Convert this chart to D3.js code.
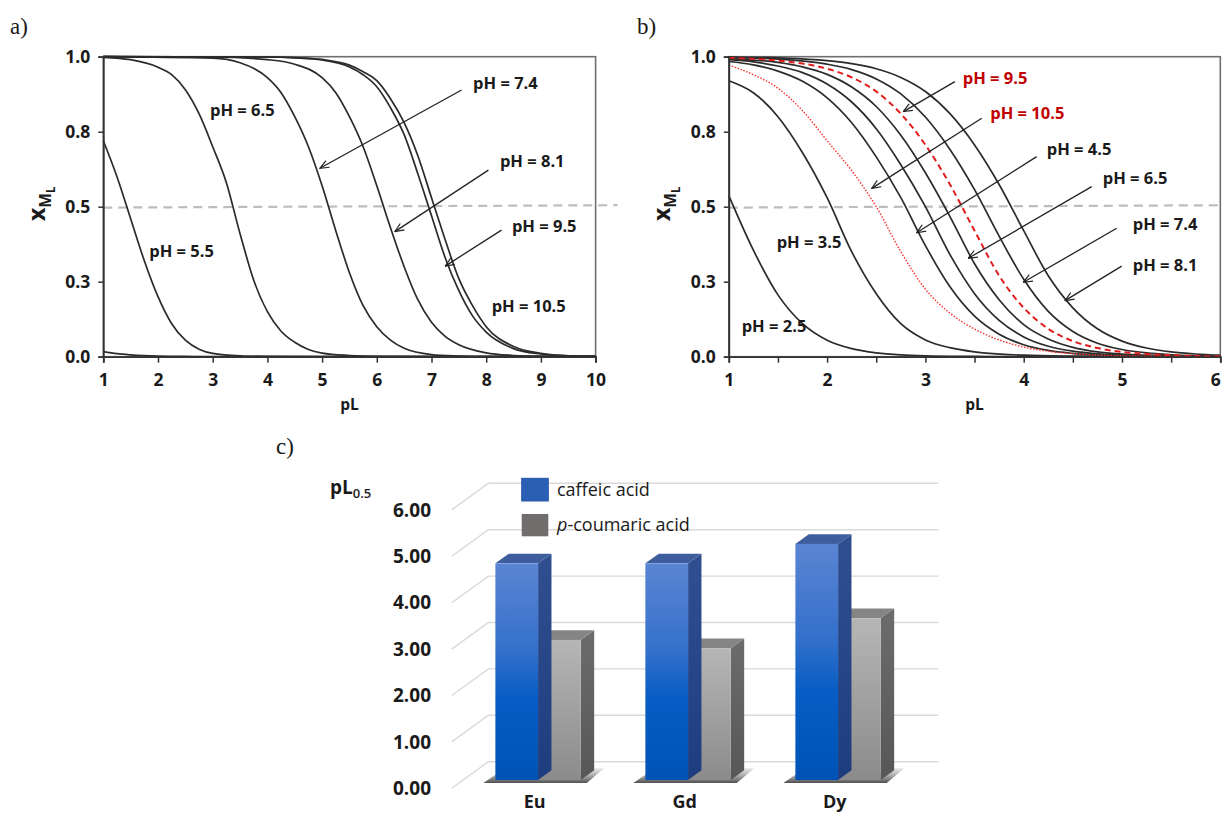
<!DOCTYPE html>
<html><head><meta charset="utf-8">
<script src="https://cdn.jsdelivr.net/npm/d3@7"></script>
<style>
body{margin:0;background:#fff}
svg{display:block}
text{font-family:"Open Sans",sans-serif;fill:#1a1a1a}
</style>
</head><body>
<svg id="c" width="1223" height="816"></svg>
<script>
// ---------------- DATA ----------------
const yTickVals = [0, 0.25, 0.5, 0.75, 1];
const yTickLabels = ["0.0", "0.3", "0.5", "0.8", "1.0"];
const aXTicks = [1,2,3,4,5,6,7,8,9,10];
const bXTicks = [1,2,3,4,5,6];
const bXMinorTicks = [1.5,2.5,3.5,4.5,5.5];
const refLineA = [[1,0.497],[10.4,0.505]];
const refLineB = [[1,0.497],[6.05,0.505]];

// panel a: x_ML vs pL
const a_pH45 = [[1,0.017],[1.25,0.01],[1.5,0.006],[2,0.002],[2.5,0.001],[3,0],[10,0]];
const a_pH55 = [[1,0.72],[1.25,0.60],[1.5,0.46],[1.75,0.32],[2,0.20],[2.25,0.11],[2.5,0.055],[2.75,0.025],[3,0.011],[3.5,0.003],[4,0.001],[5,0],[10,0]];
const a_pH65 = [[1,0.998],[1.5,0.99],[2,0.965],[2.25,0.94],[2.5,0.89],[2.75,0.81],[3,0.70],[3.25,0.58],[3.5,0.41],[3.75,0.255],[4,0.15],[4.25,0.085],[4.5,0.048],[4.75,0.024],[5,0.012],[5.5,0.004],[6,0.001],[7,0],[10,0]];
const a_pH74 = [[1,1],[3,0.995],[3.5,0.98],[4,0.93],[4.25,0.88],[4.5,0.80],[4.75,0.70],[5,0.57],[5.25,0.42],[5.5,0.28],[5.75,0.17],[6,0.10],[6.25,0.055],[6.5,0.028],[7,0.007],[7.5,0.002],[8,0],[10,0]];
const a_pH81 = [[1,1],[3,0.999],[4,0.99],[4.5,0.975],[5,0.93],[5.25,0.88],[5.5,0.80],[5.75,0.70],[6,0.57],[6.25,0.43],[6.5,0.30],[6.75,0.19],[7,0.115],[7.25,0.068],[7.5,0.04],[8,0.013],[8.5,0.004],[9,0.001],[10,0]];
const a_pH95 = [[1,1],[4,0.999],[4.5,0.996],[5,0.989],[5.5,0.966],[5.75,0.94],[6,0.90],[6.25,0.83],[6.5,0.74],[6.75,0.61],[7,0.47],[7.25,0.33],[7.5,0.22],[7.75,0.136],[8,0.082],[8.5,0.027],[9,0.009],[9.5,0.003],[10,0.001]];
const a_pH105 = [[1,1],[4,0.999],[4.5,0.997],[5,0.991],[5.5,0.972],[5.75,0.95],[6,0.92],[6.25,0.86],[6.5,0.78],[6.75,0.67],[7,0.53],[7.25,0.39],[7.5,0.26],[7.75,0.17],[8,0.10],[8.5,0.034],[9,0.011],[9.5,0.003],[10,0.001]];

// panel b
const b_pH25 = [[1,0.537],[1.25,0.355],[1.5,0.206],[1.75,0.11],[2,0.055],[2.25,0.027],[2.5,0.013],[2.75,0.006],[3,0.003],[3.5,0.001],[4,0],[6,0]];
const b_pH35 = [[1,0.92],[1.25,0.88],[1.5,0.80],[1.75,0.68],[2,0.53],[2.25,0.35],[2.5,0.21],[2.75,0.11],[3,0.056],[3.25,0.03],[3.5,0.016],[4,0.005],[4.5,0.002],[5,0.001],[6,0]];
const b_pH45 = [[1,0.984],[1.25,0.973],[1.5,0.952],[1.75,0.918],[2,0.863],[2.25,0.78],[2.5,0.666],[2.75,0.53],[3,0.37],[3.25,0.233],[3.5,0.135],[3.75,0.075],[4,0.04],[4.25,0.021],[4.5,0.011],[5,0.003],[5.5,0.001],[6,0]];
const b_pH55 = [[1,0.99],[1.25,0.983],[1.5,0.969],[1.75,0.947],[2,0.909],[2.25,0.849],[2.5,0.76],[2.75,0.64],[3,0.5],[3.25,0.34],[3.5,0.21],[3.75,0.121],[4,0.066],[4.25,0.035],[4.5,0.0185],[4.75,0.0096],[5,0.005],[5.5,0.0013],[6,0.0004]];
const b_pH65 = [[1,0.993],[1.5,0.981],[1.75,0.966],[2,0.941],[2.25,0.899],[2.5,0.834],[2.75,0.738],[3,0.613],[3.25,0.467],[3.5,0.31],[3.75,0.19],[4,0.107],[4.25,0.059],[4.5,0.031],[4.75,0.016],[5,0.0085],[5.5,0.0023],[6,0.0006]];
const b_pH74 = [[1,0.997],[1.5,0.992],[2,0.975],[2.25,0.957],[2.5,0.926],[2.75,0.876],[3,0.799],[3.25,0.691],[3.5,0.557],[3.75,0.402],[4,0.258],[4.25,0.151],[4.5,0.084],[4.75,0.045],[5,0.024],[5.25,0.0125],[5.5,0.0065],[6,0.0017]];
const b_pH81 = [[1,0.999],[1.5,0.996],[2,0.987],[2.25,0.977],[2.5,0.96],[2.75,0.931],[3,0.884],[3.25,0.81],[3.5,0.706],[3.75,0.574],[4,0.42],[4.25,0.27],[4.5,0.163],[4.75,0.093],[5,0.052],[5.25,0.029],[5.5,0.016],[5.75,0.009],[6,0.005]];
const b_pH95 = [[1,0.996],[1.5,0.987],[1.75,0.977],[2,0.96],[2.25,0.931],[2.5,0.884],[2.75,0.81],[3,0.706],[3.25,0.574],[3.5,0.42],[3.75,0.27],[4,0.163],[4.25,0.093],[4.5,0.052],[4.75,0.029],[5,0.016],[5.25,0.009],[5.5,0.005],[6,0.0015]];
const b_pH105 = [[1,0.972],[1.25,0.94],[1.5,0.895],[1.75,0.82],[2,0.72],[2.25,0.62],[2.5,0.50],[2.75,0.35],[3,0.225],[3.25,0.145],[3.5,0.092],[3.75,0.056],[4,0.032],[4.25,0.018],[4.5,0.01],[5,0.003],[5.5,0.001],[6,0]];

// annotations (data coordinates): label, label anchor, arrow start, arrow tip
const annA = [
  {t:"pH = 7.4",  at:[7.76,0.912], from:[7.55,0.889], to:[4.96,0.628]},
  {t:"pH = 8.1",  at:[8.25,0.650], from:[8.04,0.622], to:[6.33,0.417]},
  {t:"pH = 9.5",  at:[8.47,0.436], from:[8.28,0.422], to:[7.25,0.302]},
  {t:"pH = 10.5", at:[8.10,0.169]},
  {t:"pH = 6.5",  at:[2.95,0.820]},
  {t:"pH = 5.5",  at:[1.84,0.352]}
];
const annB = [
  {t:"pH = 9.5",  at:[3.38,0.929], from:[3.30,0.917], to:[2.775,0.817], red:true},
  {t:"pH = 10.5", at:[3.66,0.811], from:[3.573,0.795], to:[2.454,0.561], red:true},
  {t:"pH = 4.5",  at:[4.234,0.691], from:[4.132,0.667], to:[2.911,0.413]},
  {t:"pH = 6.5",  at:[4.804,0.595], from:[4.692,0.567], to:[3.436,0.328]},
  {t:"pH = 7.4",  at:[5.109,0.441], from:[4.946,0.428], to:[3.996,0.248]},
  {t:"pH = 8.1",  at:[5.109,0.306], from:[4.997,0.302], to:[4.42,0.187]},
  {t:"pH = 3.5",  at:[1.487,0.380]},
  {t:"pH = 2.5",  at:[1.131,0.102]}
];

// panel c
const elements = ["Eu","Gd","Dy"];
const caffeic = [4.67, 4.67, 5.09];
const coumaric = [3.02, 2.84, 3.49];
const cTicks = [0,1,2,3,4,5,6];
const seriesNames = ["caffeic acid","coumaric acid"];

// ---------------- DRAW ----------------
const svg = d3.select("#c");
const defs = svg.append("defs");
defs.append("marker").attr("id","arr").attr("viewBox","0 0 10 10")
  .attr("refX",10).attr("refY",5).attr("markerWidth",10).attr("markerHeight",9)
  .attr("markerUnits","userSpaceOnUse").attr("orient","auto")
  .append("path").attr("d","M0,0.8 L10,5 L0,9.2").attr("fill","none")
  .attr("stroke","#222").attr("stroke-width",1.3);

const yA = d3.scaleLinear([0,1],[356.7,56.7]);
const xA = d3.scaleLinear([1,10],[103.3,595.6]);
const xB = d3.scaleLinear([1,6],[728.8,1220.3]);

function panel(x, y, xTicks, minor, curves, ann, refLine, titleX){
  const g = svg.append("g");
  const [x0,x1] = x.range();
  g.append("rect").attr("x",x0).attr("y",y(1)).attr("width",x1-x0).attr("height",y(0)-y(1))
    .attr("fill","none").attr("stroke","#6f6f6f").attr("stroke-width",1.6);
  g.append("path").attr("d",d3.line().x(d=>x(d[0])).y(d=>y(d[1]))(refLine))
    .attr("stroke","#bdbdbd").attr("stroke-width",2.2).attr("stroke-dasharray","9,6").attr("fill","none");
  const line = d3.line().x(d=>x(d[0])).y(d=>y(d[1])).curve(d3.curveMonotoneX);
  curves.forEach(c=>{
    g.append("path").attr("d",line(c.data)).attr("fill","none")
      .attr("stroke",c.color||"#2b2b2b").attr("stroke-width",c.w||1.7)
      .attr("stroke-dasharray",c.dash||null);
  });
  const ay = g.append("g").attr("transform",`translate(${x0},0)`)
    .call(d3.axisLeft(y).tickValues(yTickVals).tickFormat((d,i)=>yTickLabels[i]).tickSize(5).tickPadding(8));
  const ax = g.append("g").attr("transform",`translate(0,${y(0)})`)
    .call(d3.axisBottom(x).tickValues(xTicks.concat(minor)).tickFormat(d=>xTicks.includes(d)?d:"").tickSize(6).tickPadding(11));
  [ay,ax].forEach(a=>{
    a.select(".domain").attr("stroke","#333").attr("stroke-width",1.8);
    a.selectAll(".tick line").attr("stroke","#333").attr("stroke-width",1.5);
    a.selectAll("text").attr("font-size",17.5).attr("font-weight",700).attr("fill","#1a1a1a").attr("font-family","Open Sans");
  });
  // keep the last x tick label inside the picture
  ax.selectAll(".tick text").filter(d=>x(d)>1210).attr("text-anchor","end").attr("dx",0);
  g.append("text").attr("x",(x0+x1)/2).attr("y",410).attr("text-anchor","middle")
    .attr("font-size",15.5).attr("font-weight",700).text("pL");
  const yt = g.append("text").attr("transform",`translate(${titleX},${221}) rotate(-90)`)
    .attr("font-weight",700).attr("font-size",23);
  yt.append("tspan").text("x");
  yt.append("tspan").attr("font-size",15.5).attr("dy",6).text("M");
  yt.append("tspan").attr("font-size",11.5).attr("dy",4).text("L");
  ann.forEach(a=>{
    g.append("text").attr("x",x(a.at[0])).attr("y",y(a.at[1])).attr("dy","0.35em")
      .attr("font-size",16.5).attr("font-weight",700)
      .style("fill",a.red?"#c00000":"#1a1a1a").text(a.t);
    if(a.from){
      g.append("line").attr("x1",x(a.from[0])).attr("y1",y(a.from[1]))
        .attr("x2",x(a.to[0])).attr("y2",y(a.to[1]))
        .attr("stroke","#222").attr("stroke-width",1.3).attr("marker-end","url(#arr)");
    }
  });
}

panel(xA, yA, aXTicks, [], [
  {data:a_pH45},{data:a_pH55},{data:a_pH65},{data:a_pH74},{data:a_pH81},{data:a_pH95},{data:a_pH105}
], annA, refLineA, 45);

panel(xB, yA, bXTicks, bXMinorTicks, [
  {data:b_pH25},{data:b_pH35},{data:b_pH45},{data:b_pH55},{data:b_pH65},{data:b_pH74},{data:b_pH81},
  {data:b_pH105, color:"#ff3030", w:1.4, dash:"1.5,1.6"},
  {data:b_pH95, color:"#e01c1c", w:2, dash:"6,4"}
], annB, refLineB, 670);

[["a)",10,34],["b)",637,34],["c)",276,454]].forEach(p=>{
  svg.append("text").attr("x",p[1]).attr("y",p[2])
    .attr("font-size",23).style("font-family","'Liberation Serif',serif").text(p[0]);
});

// ---------------- PANEL C ----------------
const gc = svg.append("g");
const yC = d3.scaleLinear([0,6],[788.3,509.9]);
const xC = d3.scaleBand(elements,[451.7,901.7]);
const DX = 36.7, DY = -26.6;
const f0 = 0.31, fd = 0.365;
const barW = 42.7;

function grad(id, stops){
  const lg = defs.append("linearGradient").attr("id",id).attr("x1",0).attr("y1",0).attr("x2",0).attr("y2",1);
  stops.forEach(s=>lg.append("stop").attr("offset",s[0]).attr("stop-color",s[1]).attr("stop-opacity",s[2]==null?1:s[2]));
}
grad("gBlue",[[0,"#5b85d3"],[0.4,"#3470cb"],[0.62,"#075dc4"],[1,"#0053b5"]]);
grad("gBlueSide",[[0,"#2f4f90"],[1,"#1e3d7e"]]);
grad("gGray",[[0,"#b6b6b6"],[1,"#8b8b8b"]]);
grad("gGraySide",[[0,"#6c6c6c"],[1,"#575757"]]);
grad("gShadow",[[0,"#888",0.2],[1,"#3a3a3a",0.9]]);

cTicks.forEach(t=>{
  const y0 = yC(t);
  gc.append("path").attr("d",`M${451.7},${y0} L${451.7+DX},${y0+DY} L${901.7+DX},${y0+DY}`)
    .attr("fill","none").attr("stroke","#d9d9d9").attr("stroke-width",1.4);
  gc.append("text").attr("x",431).attr("y",y0).attr("dy","0.35em").attr("text-anchor","end")
    .attr("font-size",19).attr("font-weight",700).text(t.toFixed(2));
});

elements.forEach((e,i)=>{
  const bx = xC(e) + (xC.bandwidth()-2*barW)/2;
  const xl = bx + f0*DX, yb = yC(0) + f0*DY;
  const w = 2*barW;
  gc.append("path").attr("d",`M${xl-12},${yb+3} L${xl+w+6},${yb+3} L${xl+w+fd*DX+10},${yb+fd*DY-2} L${xl+fd*DX-4},${yb+fd*DY-2} Z`)
    .attr("fill","url(#gShadow)");
});

function bar3d(x, v, front, side, top){
  const xl = x + f0*DX, yb = yC(0) + f0*DY;
  const yt = yb - (yC(0)-yC(v));
  const dx = fd*DX, dy = fd*DY;
  gc.append("path").attr("d",`M${xl+barW},${yt} L${xl+barW+dx},${yt+dy} L${xl+barW+dx},${yb+dy} L${xl+barW},${yb} Z`).attr("fill",side);
  gc.append("path").attr("d",`M${xl},${yt} L${xl+dx},${yt+dy} L${xl+barW+dx},${yt+dy} L${xl+barW},${yt} Z`).attr("fill",top);
  gc.append("rect").attr("x",xl).attr("y",yt).attr("width",barW).attr("height",yb-yt).attr("fill",front);
}
elements.forEach((e,i)=>{
  const bx = xC(e) + (xC.bandwidth()-2*barW)/2;
  bar3d(bx+barW, coumaric[i], "url(#gGray)", "url(#gGraySide)", "#858585");
  bar3d(bx, caffeic[i], "url(#gBlue)", "url(#gBlueSide)", "#3e5d9d");
  gc.append("text").attr("x",xC(e)+xC.bandwidth()/2+8).attr("y",802).attr("dy","0.35em")
    .attr("text-anchor","middle").attr("font-size",18).attr("font-weight",700).text(e);
});

const pt = gc.append("text").attr("x",330).attr("y",494).attr("font-size",19).attr("font-weight",700);
pt.append("tspan").text("pL");
pt.append("tspan").attr("font-size",13).attr("font-weight",600).attr("dy",4).text("0.5");

gc.append("rect").attr("x",521.7).attr("y",478.3).attr("width",26.6).attr("height",22.7).attr("fill","#2a5fb4").attr("stroke","#2a58a8");
gc.append("rect").attr("x",521.7).attr("y",514).attr("width",26.6).attr("height",22.3).attr("fill","#716d6d");
gc.append("text").attr("x",557).attr("y",490).attr("dy","0.35em").attr("font-size",18).text(seriesNames[0]);
const lt = gc.append("text").attr("x",557).attr("y",525).attr("dy","0.35em").attr("font-size",18);
lt.append("tspan").attr("font-style","italic").text("p");
lt.append("tspan").text("-" + seriesNames[1]);
</script>
</body></html>
